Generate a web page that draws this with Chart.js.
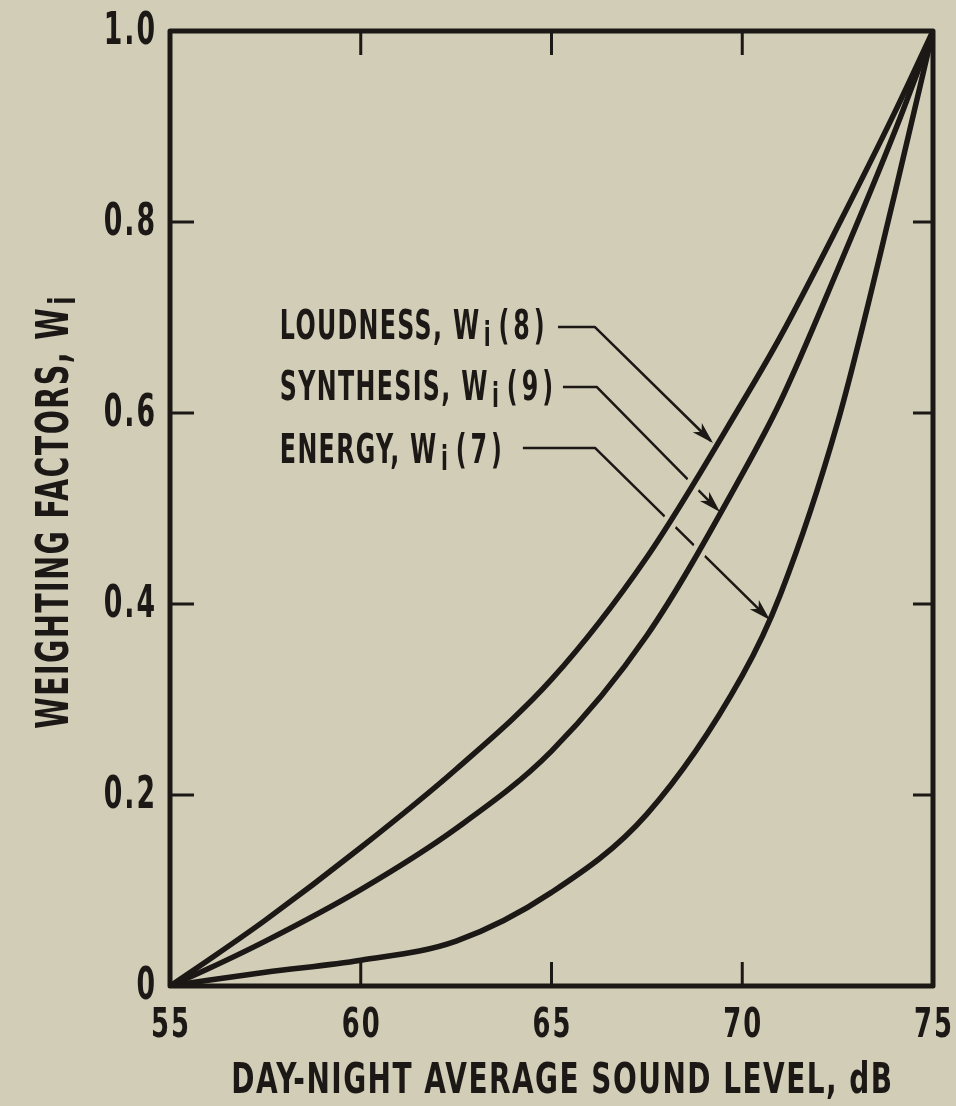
<!DOCTYPE html>
<html>
<head>
<meta charset="utf-8">
<script src="https://cdn.jsdelivr.net/npm/chart.js@4.4.1/dist/chart.umd.min.js"></script>
<style>
  html, body { margin: 0; padding: 0; background: #d2cdb7; }
  canvas { display: block; }
</style>
</head>
<body>
<canvas id="chart" width="956" height="1106"></canvas>
<script>
// values
const soundLevels = [55, 56, 57.5, 60, 62.5, 65, 67.5, 70, 71, 72.5, 74, 75];
const loudness  = [0, 0.027, 0.069, 0.145, 0.227, 0.321, 0.449, 0.611, 0.680, 0.795, 0.915, 1.0];
const synthesis = [0, 0.018, 0.047, 0.101, 0.165, 0.246, 0.367, 0.536, 0.612, 0.750, 0.895, 1.0];
const energy    = [0, 0.006, 0.0145, 0.027, 0.047, 0.098, 0.180, 0.325, 0.410, 0.590, 0.830, 1.0];

const xTickValues = [55, 60, 65, 70, 75];
const xTickLabels = ['55', '60', '65', '70', '75'];
const yTickLabels = ['0', '0.2', '0.4', '0.6', '0.8', '1.0'];

const xTitle = 'DAY-NIGHT AVERAGE SOUND LEVEL, dB';
const yTitle = ['WEIGHTING FACTORS, W', 'i'];

const INK = '#1b1816';
const PAPER = '#d2cdb7';
const FONT = '"Liberation Sans Narrow", "DejaVu Sans Condensed", "DejaVu Sans", sans-serif';

// callout labels, positions in data units (dB, weight)
const callouts = [
    { parts: ['LOUDNESS, W', 'i', '(8)'], at: [57.88, 0.6775],
      leader: [[65.17, 0.690], [66.14, 0.690], [69.233, 0.5686]] },
    { parts: ['SYNTHESIS, W', 'i', '(9)'], at: [57.88, 0.6136],
      leader: [[65.30, 0.6272], [66.19, 0.6272], [69.417, 0.4963]] },
    { parts: ['ENERGY, W', 'i', '(7)'], at: [57.88, 0.5476],
      leader: [[64.25, 0.5634], [66.14, 0.5634], [70.727, 0.3832]] }
];

function toXY(data) {
    return soundLevels.map((x, i) => ({ x: x, y: data[i] }));
}

// the original lettering is tall and narrow, so squeeze it horizontally
function drawCondensed(ctx, pieces, x, y, align, sx, rot) {
    ctx.save();
    ctx.translate(x, y);
    if (rot) ctx.rotate(rot);
    ctx.scale(sx, 1);
    ctx.textAlign = 'left';
    ctx.textBaseline = 'alphabetic';
    ctx.fillStyle = INK;
    const widths = [];
    let total = 0;
    pieces.forEach(p => {
        ctx.font = 'bold ' + p.size + 'px ' + FONT;
        ctx.letterSpacing = (p.spacing || 0) + 'px';
        const w = ctx.measureText(p.text).width;
        widths.push(w);
        total += (p.gap || 0) + w;
    });
    let cx = align === 'center' ? -total / 2 : (align === 'right' ? -total : 0);
    pieces.forEach((p, i) => {
        ctx.font = 'bold ' + p.size + 'px ' + FONT;
        ctx.letterSpacing = (p.spacing || 0) + 'px';
        cx += p.gap || 0;
        ctx.fillText(p.text, cx, p.dy || 0);
        cx += widths[i];
    });
    ctx.restore();
}

const paperPlugin = {
    id: 'paper',
    beforeDraw(chart) {
        const ctx = chart.ctx;
        ctx.save();
        ctx.fillStyle = PAPER;
        ctx.fillRect(0, 0, chart.width, chart.height);
        ctx.restore();
    }
};

const decorPlugin = {
    id: 'decor',
    beforeDatasetsDraw(chart) {
        // leader lines go under the curves, the paper coloured halos cut them
        const ctx = chart.ctx;
        const xs = chart.scales.x, ys = chart.scales.y;
        ctx.save();
        ctx.strokeStyle = INK;
        ctx.lineWidth = 2.5;
        ctx.lineJoin = 'round';
        callouts.forEach(c => {
            ctx.beginPath();
            c.leader.forEach((p, i) => {
                const px = xs.getPixelForValue(p[0]), py = ys.getPixelForValue(p[1]);
                if (i === 0) ctx.moveTo(px, py); else ctx.lineTo(px, py);
            });
            ctx.stroke();
        });
        ctx.restore();
    },
    afterDatasetsDraw(chart) {
        const ctx = chart.ctx;
        const a = chart.chartArea;
        const xs = chart.scales.x, ys = chart.scales.y;
        ctx.save();
        ctx.strokeStyle = INK;
        ctx.fillStyle = INK;

        // frame
        ctx.lineWidth = 5;
        ctx.lineJoin = 'round';
        ctx.strokeRect(a.left, a.top, a.right - a.left, a.bottom - a.top);

        // inward tick marks on all four sides
        ctx.lineWidth = 3;
        ctx.beginPath();
        xs.ticks.forEach(t => {
            if (t.value <= xs.min || t.value >= xs.max) return;
            const px = xs.getPixelForValue(t.value);
            ctx.moveTo(px, a.bottom); ctx.lineTo(px, a.bottom - 24);
            ctx.moveTo(px, a.top); ctx.lineTo(px, a.top + 24);
        });
        ys.ticks.forEach(t => {
            if (t.value <= ys.min || t.value >= ys.max) return;
            const py = ys.getPixelForValue(t.value);
            ctx.moveTo(a.left, py); ctx.lineTo(a.left + 24, py);
            ctx.moveTo(a.right, py); ctx.lineTo(a.right - 20, py);
        });
        ctx.stroke();

        // tick labels, taken from the scales
        xs.ticks.forEach(t => {
            drawCondensed(ctx, [{ text: t.label, size: 41, spacing: 3 }],
                xs.getPixelForValue(t.value) + 1, a.bottom + 51, 'center', 0.7);
        });
        ys.ticks.forEach(t => {
            drawCondensed(ctx, [{ text: t.label, size: 45, spacing: 3 }],
                a.left - 13, ys.getPixelForValue(t.value) + 13, 'right', 0.66);
        });

        // axis titles
        drawCondensed(ctx, [{ text: xTitle, size: 42, spacing: 2 }],
            (a.left + a.right) / 2 + 11, a.bottom + 107, 'center', 0.74);
        drawCondensed(ctx, [
            { text: yTitle[0], size: 44, spacing: 2 },
            { text: yTitle[1], size: 38, spacing: 0, gap: 3, dy: 7 }
        ], a.left - 102, (a.top + a.bottom) / 2 + 4, 'center', 0.72, -Math.PI / 2);

        // arrow heads
        callouts.forEach(c => {
            const n = c.leader.length;
            const x0 = xs.getPixelForValue(c.leader[n - 2][0]), y0 = ys.getPixelForValue(c.leader[n - 2][1]);
            const x1 = xs.getPixelForValue(c.leader[n - 1][0]), y1 = ys.getPixelForValue(c.leader[n - 1][1]);
            const ang = Math.atan2(y1 - y0, x1 - x0);
            ctx.save();
            ctx.translate(x1, y1);
            ctx.rotate(ang);
            ctx.beginPath();
            ctx.moveTo(0, 0);
            ctx.lineTo(-22, -6.5);
            ctx.lineTo(-16, 0);
            ctx.lineTo(-22, 6.5);
            ctx.closePath();
            ctx.fill();
            ctx.restore();
        });

        // callout text
        callouts.forEach(c => {
            drawCondensed(ctx, [
                { text: c.parts[0], size: 40, spacing: 2 },
                { text: c.parts[1], size: 34, spacing: 0, gap: 5, dy: 7 },
                { text: c.parts[2], size: 40, spacing: 6, gap: 12 }
            ], xs.getPixelForValue(c.at[0]), ys.getPixelForValue(c.at[1]), 'left', 0.66);
        });
        ctx.restore();
    }
};

function curve(label, data) {
    return {
        label: label,
        data: toXY(data),
        borderColor: INK,
        borderWidth: 5.5,
        pointRadius: 0,
        cubicInterpolationMode: 'monotone',
        fill: false,
        order: 1
    };
}

function halo(label, data) {
    return {
        label: label + ' halo',
        data: toXY(data),
        borderColor: PAPER,
        borderWidth: 15,
        pointRadius: 0,
        cubicInterpolationMode: 'monotone',
        fill: false,
        order: 2
    };
}

new Chart(document.getElementById('chart'), {
    type: 'line',
    data: {
        datasets: [
            curve('Loudness', loudness),
            curve('Synthesis', synthesis),
            curve('Energy', energy),
            halo('Loudness', loudness),
            halo('Synthesis', synthesis),
            halo('Energy', energy)
        ]
    },
    options: {
        responsive: false,
        animation: false,
        events: [],
        layout: { padding: { top: 31, right: 23, left: 0, bottom: 0 } },
        plugins: {
            legend: { display: false },
            tooltip: { enabled: false }
        },
        scales: {
            x: {
                type: 'linear',
                position: 'bottom',
                min: 55,
                max: 75,
                grid: { display: false, drawTicks: false },
                border: { display: false },
                ticks: {
                    display: false,
                    stepSize: 5,
                    callback: v => {
                        const i = xTickValues.indexOf(v);
                        return i < 0 ? '' : xTickLabels[i];
                    }
                },
                title: { display: false },
                afterFit(scale) {
                    scale.height = 120;
                    scale.paddingLeft = 0;
                    scale.paddingRight = 0;
                }
            },
            y: {
                min: 0,
                max: 1,
                grid: { display: false, drawTicks: false },
                border: { display: false },
                ticks: {
                    display: false,
                    stepSize: 0.2,
                    callback: v => yTickLabels[Math.round(v * 5)]
                },
                title: { display: false },
                afterFit(scale) {
                    scale.width = 170;
                    scale.paddingTop = 0;
                    scale.paddingBottom = 0;
                }
            }
        }
    },
    plugins: [paperPlugin, decorPlugin]
});
</script>
</body>
</html>
